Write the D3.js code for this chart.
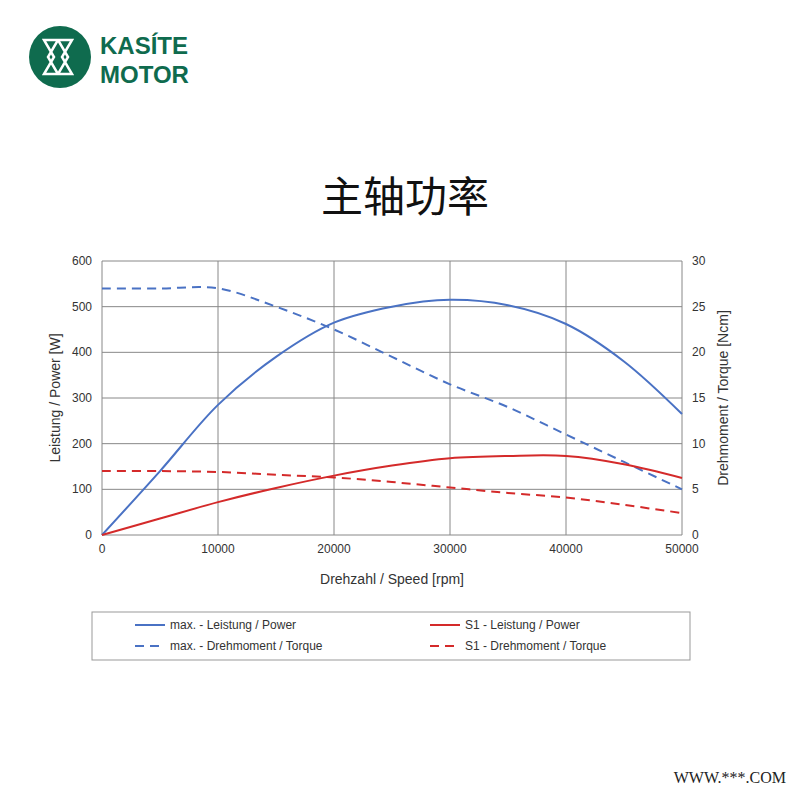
<!DOCTYPE html>
<html><head><meta charset="utf-8">
<script src="https://cdn.jsdelivr.net/npm/d3@7"></script>
<style>body{margin:0;background:#fff}</style>
</head><body>
<svg id="c" width="800" height="800"></svg>
<script>
const speeds = [0,5000,10000,15000,20000,25000,30000,35000,40000,45000,50000];
const maxPower = [0,140,285,390,465,500,515,503,462,380,265];
const maxTorque = [27,27,27,25,22.5,19.5,16.5,14,11,8,5];
const s1Power = [0,36,72,103,130,152,168,173,173,155,125];
const s1Torque = [7,7,6.9,6.6,6.3,5.8,5.2,4.6,4.1,3.3,2.4];
const xTicks = [0,10000,20000,30000,40000,50000];
const powerTicks = [0,100,200,300,400,500,600];
const torqueTicks = [0,5,10,15,20,25,30];

const svg = d3.select("#c");
const font = "Arial, 'Liberation Sans', sans-serif";
const x = d3.scaleLinear().domain([0,50000]).range([102,682]);
const yP = d3.scaleLinear().domain([0,600]).range([535,261]);
const yT = d3.scaleLinear().domain([0,30]).range([535,261]);

// logo
const logo = svg.append("g");
logo.append("circle").attr("cx",60).attr("cy",57).attr("r",31).attr("fill","#0f6b4e");
logo.append("path").attr("d","M44 40 L58 40 L48 57 L58 74 L44 74 L54 57 Z M58 40 L72 40 L62 57 L72 74 L58 74 L68 57 Z")
  .attr("fill","none").attr("stroke","#fff").attr("stroke-width",2.5);
logo.append("text").attr("x",100).attr("y",54).text("KASÍTE").attr("font-family",font).attr("font-weight","bold").attr("font-size",24).attr("fill","#0f6b4e");
logo.append("text").attr("x",100).attr("y",83).text("MOTOR").attr("font-family",font).attr("font-weight","bold").attr("font-size",24).attr("fill","#0f6b4e");

svg.append("text").attr("x",405).attr("y",212).attr("text-anchor","middle").text("主轴功率")
  .attr("font-family","'Noto Sans CJK SC'").attr("font-size",42).attr("fill","#111");

// grid
const g = svg.append("g");
g.selectAll(".vx").data(xTicks).join("line").attr("x1",x).attr("x2",x).attr("y1",261).attr("y2",535).attr("stroke","#888");
g.selectAll(".hy").data(powerTicks).join("line").attr("x1",102).attr("x2",682).attr("y1",yP).attr("y2",yP).attr("stroke","#888");

const ax = svg.append("g").attr("font-family",font).attr("font-size",12).attr("fill","#333");
ax.selectAll(".xl").data(xTicks).join("text").attr("x",x).attr("y",553).attr("text-anchor","middle").text(d=>d);
ax.selectAll(".pl").data(powerTicks).join("text").attr("x",92).attr("y",d=>yP(d)+4).attr("text-anchor","end").text(d=>d);
ax.selectAll(".tl").data(torqueTicks).join("text").attr("x",692).attr("y",d=>yT(d)+4).text(d=>d);
svg.append("text").attr("x",392).attr("y",584).attr("text-anchor","middle").text("Drehzahl / Speed [rpm]").attr("font-family",font).attr("font-size",14).attr("fill","#333");
svg.append("text").attr("transform","translate(60,398) rotate(-90)").attr("text-anchor","middle").text("Leistung / Power [W]").attr("font-family",font).attr("font-size",14).attr("fill","#333");
svg.append("text").attr("transform","translate(728,398) rotate(-90)").attr("text-anchor","middle").text("Drehmoment / Torque [Ncm]").attr("font-family",font).attr("font-size",14).attr("fill","#333");

const blue = "#4a72c4", red = "#d42a2a";
const series = [
  {v:maxPower, y:yP, c:blue, dash:null},
  {v:maxTorque, y:yT, c:blue, dash:"9,6"},
  {v:s1Power, y:yP, c:red, dash:null},
  {v:s1Torque, y:yT, c:red, dash:"9,6"}
];
series.forEach(s => {
  const line = d3.line().x((d,i)=>x(speeds[i])).y(d=>s.y(d)).curve(d3.curveCatmullRom);
  svg.append("path").attr("d",line(s.v)).attr("fill","none").attr("stroke",s.c).attr("stroke-width",2).attr("stroke-dasharray",s.dash);
});

// legend
svg.append("rect").attr("x",92).attr("y",612).attr("width",598).attr("height",48).attr("fill","#fff").attr("stroke","#999");
const leg = [
  {t:"max. - Leistung / Power", c:blue, d:null, x:135, y:625},
  {t:"S1 - Leistung / Power", c:red, d:null, x:430, y:625},
  {t:"max. - Drehmoment / Torque", c:blue, d:"9,6", x:135, y:646},
  {t:"S1 - Drehmoment / Torque", c:red, d:"9,6", x:430, y:646}
];
leg.forEach(l => {
  svg.append("line").attr("x1",l.x).attr("x2",l.x+30).attr("y1",l.y).attr("y2",l.y).attr("stroke",l.c).attr("stroke-width",2).attr("stroke-dasharray",l.d);
  svg.append("text").attr("x",l.x+35).attr("y",l.y+4).text(l.t).attr("font-family",font).attr("font-size",12).attr("fill","#333");
});

svg.append("text").attr("x",786).attr("y",783).attr("text-anchor","end").text("WWW.***.COM")
  .attr("font-family","'Liberation Serif', serif").attr("font-size",16).attr("fill","#222");
</script>
</body></html>
